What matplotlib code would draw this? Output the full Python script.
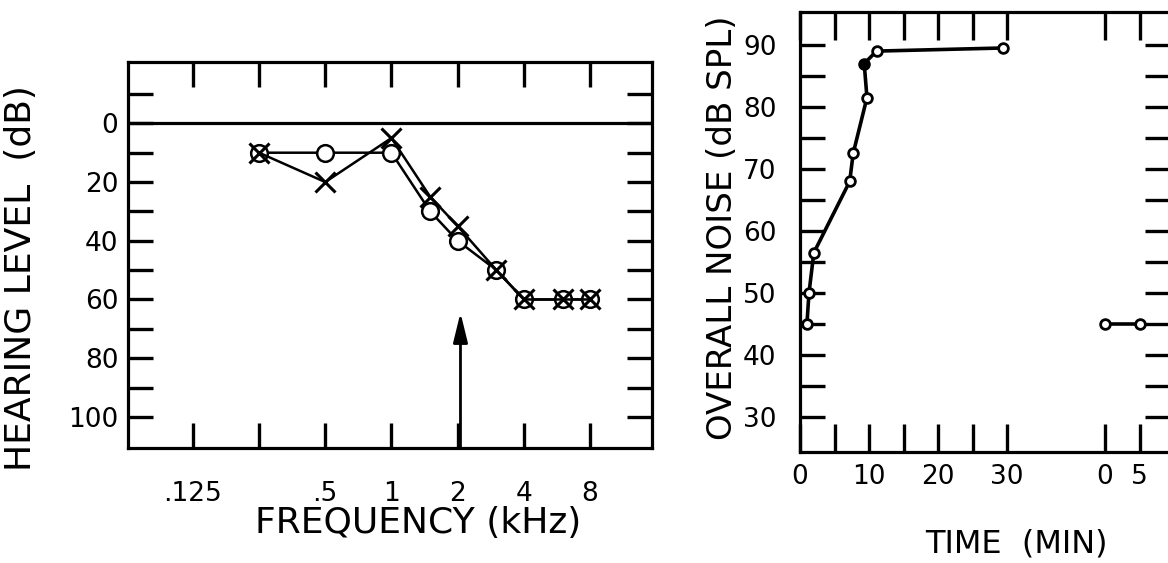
import matplotlib
matplotlib.use('agg')
import matplotlib.pyplot as plt
from matplotlib.ticker import FixedLocator, FixedFormatter, NullLocator

plt.rcParams.update({"font.family": "DejaVu Sans"})

# audiogram (left panel)
freqs = [0.25, 0.5, 1, 1.5, 2, 3, 4, 6, 8]
circle_db = [10, 10, 10, 30, 40, 50, 60, 60, 60]
cross_db = [10, 20, 5, 25, 35, 50, 60, 60, 60]
freq_ticks = [0.125, 0.25, 0.5, 1, 2, 4, 8]
freq_labels = [".125", "", ".5", "1", "2", "4", "8"]
hl_ticks = list(range(-10, 101, 10))
hl_labels = ["" if v < 0 or v % 20 else str(v) for v in hl_ticks]
arrow_freq, arrow_db = 2.06, 64.5

# noise level over time (right panel)
time_min = [1, 1.3, 2, 7.2, 7.7, 9.7, 9.3, 11.1, 29.4]
noise_db = [45, 50, 56.5, 68, 72.5, 81.5, 87, 89, 89.5]
late_time = [0, 5]
late_db = [45, 45]
late_offset = 44.2
noise_ticks = list(range(30, 91, 5))
noise_labels = [str(v) if v % 10 == 0 else "" for v in noise_ticks]

INK = "black"
LW = 2.3

fig = plt.figure(figsize=(11.68, 5.63), dpi=100)
fig.patch.set_facecolor("white")


def style_box(ax):
    for s in ax.spines.values():
        s.set_linewidth(LW)
        s.set_color(INK)
    ax.tick_params(which='major', direction='in', length=18, width=2.4,
                   top=True, right=True, color=INK, labelsize=19)
    ax.tick_params(which='minor', length=0)


# ---- left: hearing level ----
ax1 = fig.add_axes([128 / 1168, 1 - 448 / 563, 524 / 1168, 386 / 563])
style_box(ax1)
ax1.set_xscale('log', base=2)
ax1.set_xlim(0.0634, 15.3)
ax1.set_ylim(110.6, -20.9)
ax1.xaxis.set_major_locator(FixedLocator(freq_ticks))
ax1.xaxis.set_major_formatter(FixedFormatter(freq_labels))
ax1.xaxis.set_minor_locator(NullLocator())
ax1.yaxis.set_major_locator(FixedLocator(hl_ticks))
ax1.yaxis.set_major_formatter(FixedFormatter(hl_labels))
ax1.tick_params(axis='x', pad=24)
ax1.tick_params(axis='y', pad=7)
ax1.axhline(0, color=INK, lw=LW)

ax1.plot(freqs, circle_db, color=INK, lw=1.8, marker='o', ms=12,
         mfc='white', mec=INK, mew=1.8, zorder=3)
ax1.plot(freqs, cross_db, color=INK, lw=1.8, marker='x', ms=15,
         mec=INK, mew=2.2, zorder=4)
ax1.annotate('', xy=(arrow_freq, arrow_db), xytext=(arrow_freq, 110.6),
             arrowprops=dict(arrowstyle='-|>,head_length=0.9,head_width=0.22',
                             lw=2, color=INK, mutation_scale=20,
                             shrinkA=0, shrinkB=0))

ax1.set_xlabel("FREQUENCY (kHz)", fontsize=26)
ax1.xaxis.set_label_coords(0.553, -0.195)
ax1.xaxis.label.set_va('center')
ax1.set_ylabel("HEARING LEVEL  (dB)", fontsize=26)
ax1.yaxis.set_label_coords(-0.205, 0.44)
ax1.yaxis.label.set_va('center')

# ---- right: overall noise ----
ax2 = fig.add_axes([800 / 1168, 1 - 452 / 563, 370 / 1168, 440 / 563])
style_box(ax2)
ax2.set_xlim(0, 53.6)
ax2.set_ylim(24.4, 95.3)
t_ticks = list(range(0, 31, 5)) + [late_offset + t for t in late_time]
t_labels = ["0", "", "10", "", "20", "", "30", "0", "5"]
ax2.xaxis.set_major_locator(FixedLocator(t_ticks))
ax2.xaxis.set_major_formatter(FixedFormatter(t_labels))
ax2.yaxis.set_major_locator(FixedLocator(noise_ticks))
ax2.yaxis.set_major_formatter(FixedFormatter(noise_labels))
ax2.tick_params(axis='x', pad=9, length=20)
ax2.tick_params(axis='y', pad=17)

ax2.plot(time_min, noise_db, color=INK, lw=2.6, marker='o', ms=7,
         mfc='white', mec=INK, mew=2, zorder=3)
ax2.plot([time_min[6]], [noise_db[6]], ls='none', marker='o', ms=7,
         color=INK, zorder=4)
ax2.plot([late_offset + t for t in late_time], late_db, color=INK, lw=2.6,
         marker='o', ms=7, mfc='white', mec=INK, mew=2, zorder=3)

ax2.set_xlabel("TIME  (MIN)", fontsize=23)
ax2.xaxis.set_label_coords(0.586, -0.208)
ax2.xaxis.label.set_va('center')
ax2.set_ylabel("OVERALL NOISE (dB SPL)", fontsize=24.5)
ax2.yaxis.set_label_coords(-0.21, 0.51)
ax2.yaxis.label.set_va('center')

fig.savefig("out.png", dpi=100, facecolor="white")
